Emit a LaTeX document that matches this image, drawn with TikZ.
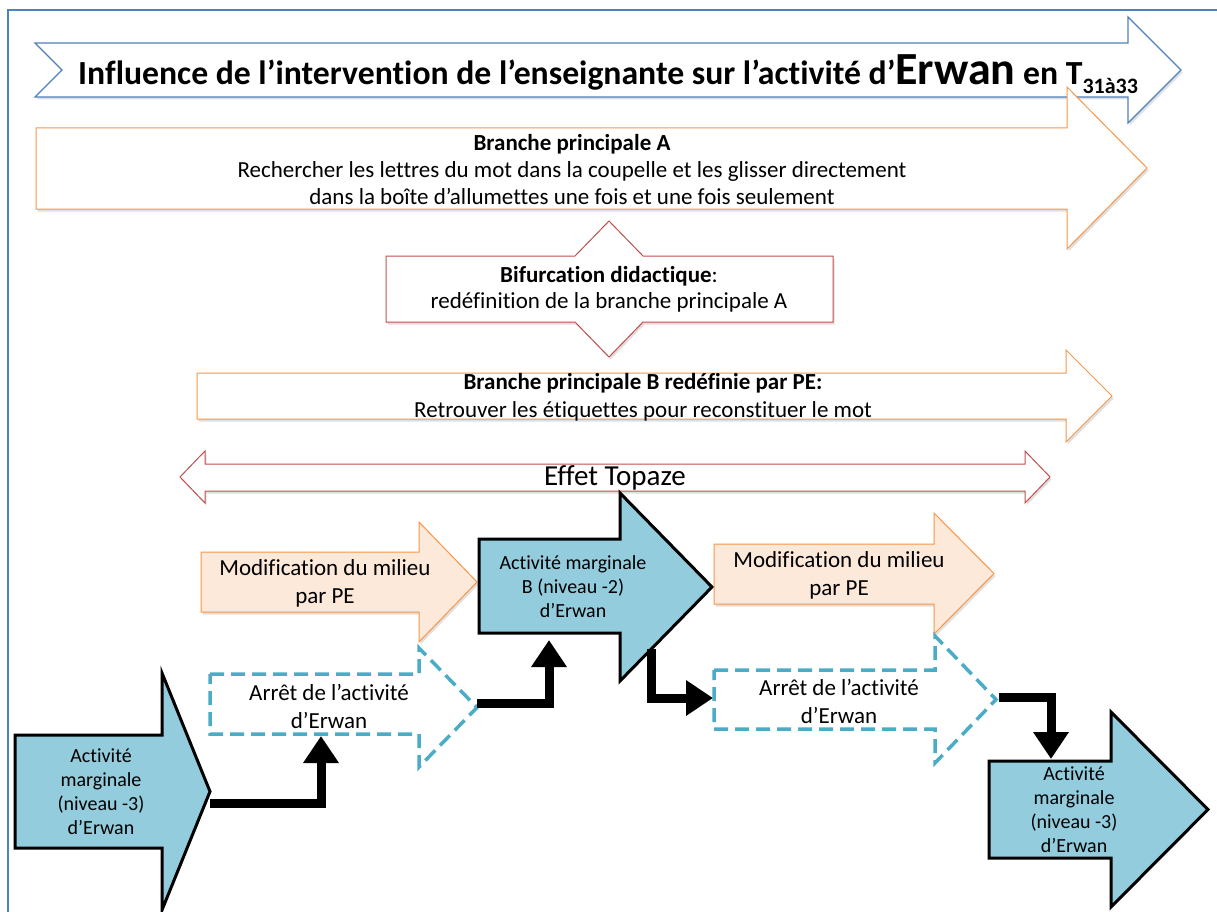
\documentclass[tikz,border=0pt]{standalone}
\usepackage{fontspec}
\setmainfont{Carlito}[Ligatures={TeX,NoCommon}]
\usetikzlibrary{arrows.meta, positioning, calc, shadows}

\definecolor{cadre}{HTML}{4F81BD}
\definecolor{orangeA}{HTML}{F79646}
\definecolor{peche}{HTML}{FDE9D9}
\definecolor{rouge}{HTML}{C0504D}
\definecolor{bleuact}{HTML}{93CDDD}
\definecolor{bleutir}{HTML}{4BACC6}

% fleche vers la droite : style, gauche, haut, bas, col, haut tete, pointe, bas tete
\newcommand{\flecheD}[8]{%
  \path[#1] (#2,#3) -- (#5,#3) -- (#5,#6) -- (#7,{(#6+#8)/2}) -- (#5,#8) -- (#5,#4) -- (#2,#4) -- cycle;}

\begin{document}
\begin{tikzpicture}[x=1pt, y=-1pt,
  cadreext/.style={draw=cadre, line width=1.5pt},
  ombre/.style={drop shadow={shadow xshift=1.5pt, shadow yshift=-2.5pt, opacity=.25}},
  titre/.style={draw=cadre, fill=white, line width=1.2pt, ombre},
  branche/.style={draw=orangeA, fill=white, line width=1pt, ombre},
  bifur/.style={draw=rouge, fill=white, line width=1pt, ombre},
  modif/.style={draw=orangeA, fill=peche, line width=1pt, ombre},
  arret/.style={draw=bleutir, fill=white, line width=3.5pt, dash pattern=on 14pt off 7pt},
  activite/.style={draw=black, fill=bleuact, line width=3pt, line join=miter},
  txt/.style={align=center, font=\fontsize{23}{28}\selectfont, inner sep=0pt},
  txtact/.style={align=center, font=\fontsize{20}{24}\selectfont, inner sep=0pt},
  lien/.style={line width=9pt, line join=miter, -{Triangle[width=34pt, length=27pt]}}]

\useasboundingbox (0,0) rectangle (1217,912);
\clip (0,0) rectangle (1217,912);
\draw[cadreext] (8,10) rectangle (1240,940);

% titre
\path[titre] (35,43) -- (1128,43) -- (1128,17) -- (1181,70) -- (1128,123) -- (1128,97) -- (35,97) -- (62,70) -- cycle;
\node[anchor=base west, inner sep=0pt, font=\bfseries\fontsize{33.7}{38}\selectfont] (titre) at (78,85)
  {Influence de l’intervention de l’enseignante sur l’activité d’{\fontsize{46}{50}\selectfont Erwan} en T\raisebox{-9pt}{\fontsize{22}{26}\selectfont 31à33}};

% branches principales
\flecheD{branche}{36}{128}{209}{1067}{87}{1147}{249}
\node[txt, font=\fontsize{23}{27}\selectfont] (brancheA) at (572,170)
  {\textbf{Branche principale A}\\ Rechercher les lettres du mot dans la coupelle et les glisser directement\\ dans la boîte d’allumettes une fois et une fois seulement};

\path[bifur] (386,256) -- (575,256) -- (609,221) -- (643,256) -- (833,256) -- (833,322)
  -- (643,322) -- (609,357) -- (575,322) -- (386,322) -- cycle;
\node[txt, font=\fontsize{23}{26}\selectfont] (bifurcation) at (609,289)
  {\textbf{Bifurcation didactique}:\\ redéfinition de la branche principale A};

\flecheD{branche}{197}{373}{419}{1066}{350}{1112}{442}
\node[txt] (brancheB) at (643,397)
  {\textbf{Branche principale B redéfinie par PE:}\\ Retrouver les étiquettes pour reconstituer le mot};

\path[bifur] (180,477) -- (205,451) -- (205,464) -- (1025,464) -- (1025,451) -- (1050,477)
  -- (1025,503) -- (1025,491) -- (205,491) -- (205,503) -- cycle;
\node[txt, font=\fontsize{29}{34}\selectfont] (topaze) at (615,478) {Effet Topaze};

% activites et modifications
\flecheD{activite}{15}{735}{848}{162}{673}{210}{910}
\node[txtact] (act1) at (101,792) {Activité\\ marginale\\ (niveau -3)\\ d’Erwan};

\flecheD{modif}{201}{552}{612}{419}{522}{477}{642}
\node[txt] (modif1) at (325,583) {Modification du milieu\\ par PE};

\flecheD{arret}{210}{674}{734}{419}{648}{477}{767}
\node[txt] (arret1) at (329,706) {Arrêt de l’activité\\ d’Erwan};

\flecheD{activite}{479}{539}{633}{620}{493}{712}{681}
\node[txtact] (act2) at (573,587) {Activité marginale\\ B (niveau -2)\\ d’Erwan};

\flecheD{modif}{714}{544}{604}{934}{513}{994}{634}
\node[txt] (modif2) at (839,575) {Modification du milieu\\ par PE};

\flecheD{arret}{714}{670}{729}{935}{636}{996}{763}
\node[txt] (arret2) at (839,701) {Arrêt de l’activité\\ d’Erwan};

\flecheD{activite}{989}{761}{858}{1111}{712}{1208}{907}
\node[txtact] (act3) at (1074,810) {Activité\\ marginale\\ (niveau -3)\\ d’Erwan};

% points d'attache des liens
\coordinate (act1out) at (210,803);
\coordinate (arret1in) at (321,736);
\coordinate (arret1out) at (477,703);
\coordinate (act2in) at (549,640);
\coordinate (act2out) at (651,649);
\coordinate (arret2in) at (713,698);
\coordinate (arret2out) at (999,697);
\coordinate (act3in) at (1051,759);

\draw[lien] (act1out) -| (arret1in);
\draw[lien] (arret1out) -| (act2in);
\draw[lien] (act2out) |- (arret2in);
\draw[lien] (arret2out) -| (act3in);

\end{tikzpicture}
\end{document}
